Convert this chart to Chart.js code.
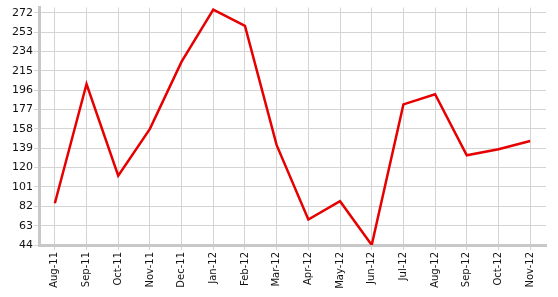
<!DOCTYPE html>
<html>
<head>
<meta charset="utf-8">
<script src="https://cdn.jsdelivr.net/npm/chart.js@4/dist/chart.umd.min.js"></script>
<style>
html,body{margin:0;padding:0;background:#fff;}
#wrap{width:558px;height:297px;position:relative;}
</style>
</head>
<body>
<div id="wrap"><canvas id="c" width="558" height="297"></canvas></div>
<script>
const categories = ["Aug-11","Sep-11","Oct-11","Nov-11","Dec-11","Jan-12","Feb-12","Mar-12","Apr-12","May-12","Jun-12","Jul-12","Aug-12","Sep-12","Oct-12","Nov-12"];
const values = [85, 202, 112, 158, 224, 275, 259, 142, 69, 87, 44, 182, 192, 132, 138, 146];
const yTickValues = [44, 63, 82, 101, 120, 139, 158, 177, 196, 215, 234, 253, 272];

new Chart(document.getElementById('c'), {
  type: 'line',
  data: {
    labels: categories,
    datasets: [{
      data: values,
      borderColor: '#e60000',
      borderWidth: 2.5,
      pointRadius: 0,
      tension: 0,
      fill: false
    }]
  },
  options: {
    responsive: false,
    animation: false,
    layout: { padding: { top: 7, right: 12, left: 0, bottom: 0 } },
    plugins: { legend: { display: false }, tooltip: { enabled: false } },
    scales: {
      x: {
        offset: true,
        grid: { offset: false, color: '#d4d4d4', lineWidth: 1, tickLength: 5, drawTicks: true },
        border: { color: '#c8c8c8', width: 3 },
        ticks: {
          color: '#111',
          font: { family: 'DejaVu Sans', size: 10 },
          minRotation: 90, maxRotation: 90, autoSkip: false, padding: 2
        },
        afterFit: s => { s.height = 52; }
      },
      y: {
        min: 44, max: 277,
        afterBuildTicks: s => { s.ticks = yTickValues.map(v => ({ value: v })); },
        grid: { color: '#d4d4d4', lineWidth: 1, tickLength: 5 },
        border: { color: '#c8c8c8', width: 3 },
        ticks: {
          color: '#111',
          font: { family: 'DejaVu Sans', size: 11 },
          padding: 1
        },
        afterFit: s => { s.width = 39; }
      }
    }
  }
});
</script>
</body>
</html>
